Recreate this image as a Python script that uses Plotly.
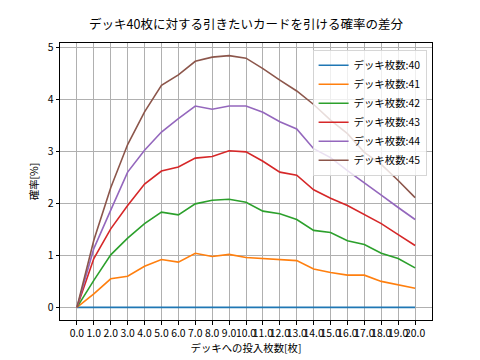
import plotly.graph_objects as go

x_vals = list(range(0, 21))
x_labels = [f"{v:.1f}" for v in x_vals]
series_names = ["デッキ枚数:40", "デッキ枚数:41", "デッキ枚数:42", "デッキ枚数:43", "デッキ枚数:44", "デッキ枚数:45"]
d40 = [0.0] * 21
d41 = [0, 0.26, 0.55, 0.60, 0.79, 0.92, 0.87, 1.04, 0.98, 1.02, 0.96, 0.94, 0.93, 0.90, 0.74, 0.67, 0.62, 0.62, 0.50, 0.44, 0.37]
d42 = [0, 0.52, 1.01, 1.33, 1.61, 1.83, 1.78, 1.99, 2.06, 2.08, 2.02, 1.85, 1.80, 1.69, 1.48, 1.44, 1.28, 1.21, 1.04, 0.94, 0.76]
d43 = [0, 0.94, 1.51, 1.96, 2.37, 2.62, 2.70, 2.87, 2.90, 3.01, 2.99, 2.81, 2.60, 2.54, 2.26, 2.10, 1.96, 1.78, 1.61, 1.40, 1.19]
d44 = [0, 1.13, 1.87, 2.60, 3.02, 3.37, 3.63, 3.87, 3.81, 3.87, 3.87, 3.75, 3.57, 3.43, 3.05, 2.88, 2.63, 2.40, 2.16, 1.92, 1.69]
d45 = [0, 1.29, 2.30, 3.13, 3.76, 4.27, 4.47, 4.73, 4.81, 4.84, 4.79, 4.59, 4.37, 4.16, 3.90, 3.60, 3.34, 2.98, 2.75, 2.44, 2.11]
y_ticks = [0, 1, 2, 3, 4, 5]

colors = ["#1f77b4", "#ff7f0e", "#2ca02c", "#d62728", "#9467bd", "#8c564b"]
FONT = "Noto Sans CJK JP, DejaVu Sans, sans-serif"

fig = go.Figure()
for name, ys, c in zip(series_names, [d40, d41, d42, d43, d44, d45], colors):
    fig.add_trace(go.Scatter(x=x_vals, y=ys, mode="lines", name=name,
                             line=dict(color=c, width=1.6)))

axis_common = dict(showline=True, linecolor="black", linewidth=0.8, mirror=True,
                   ticks="outside", ticklen=3.6, tickwidth=0.8, tickcolor="black",
                   showgrid=True, gridcolor="#b0b0b0", gridwidth=0.8, zeroline=False,
                   tickfont=dict(size=10.4, color="black", family=FONT))

fig.update_xaxes(range=[-1, 21], tickmode="array", tickvals=x_vals, ticktext=x_labels,
                 tickangle=0,
                 title=dict(text="デッキへの投入枚数[枚]", font=dict(size=10.4, family=FONT, color="black"), standoff=4),
                 **axis_common)
fig.update_yaxes(range=[-0.242, 5.082], tickmode="array", tickvals=y_ticks,
                 ticktext=[str(v) for v in y_ticks],
                 title=dict(text="確率[%]", font=dict(size=10.4, family=FONT, color="black"), standoff=6),
                 **axis_common)

fig.update_layout(
    width=480, height=360, autosize=False,
    margin=dict(l=60, r=48, t=43.2, b=39.6, autoexpand=False),
    paper_bgcolor="white", plot_bgcolor="white",
    title=dict(text="デッキ40枚に対する引きたいカードを引ける確率の差分",
               font=dict(size=12.5, family=FONT, color="black"),
               x=(60 + 432) / 2 / 480, xanchor="center", y=1 - 25 / 360, yanchor="middle"),
    legend=dict(x=0.986, y=0.975, xanchor="right", yanchor="top",
                bgcolor="rgba(255,255,255,0.8)", bordercolor="#cccccc", borderwidth=0.8,
                font=dict(size=10.4, family=FONT, color="black"),
                itemwidth=30, tracegroupgap=0),
    showlegend=True,
)

fig.write_html("out.html", config={"displayModeBar": False},
               post_script="document.body.style.margin='0';document.body.style.padding='0';")
